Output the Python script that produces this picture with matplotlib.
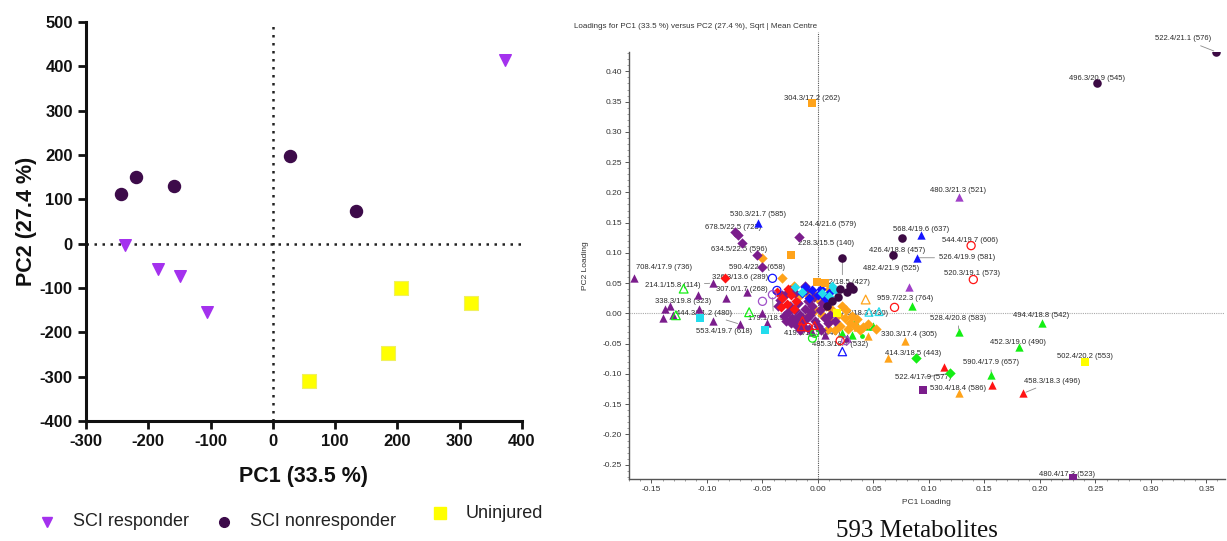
import matplotlib
matplotlib.use("Agg")
import matplotlib.pyplot as plt
from matplotlib.ticker import MultipleLocator

plt.rcParams['font.family'] = ['Liberation Sans', 'DejaVu Sans']
plt.rcParams['axes.unicode_minus'] = False

# ---- scores plot (left) ----
responder_x = [372, -237, -185, -149, -106]
responder_y = [414, -3, -58, -74, -154]
nonresponder_x = [-244, -220, -159, 28, 133]
nonresponder_y = [113, 151, 131, 197, 74]
uninjured_x = [206, 318, 185, 58]
uninjured_y = [-99, -134, -247, -310]
group_names = ["SCI responder", "SCI nonresponder", "Uninjured"]

# ---- loadings plot (right), grouped by marker class ----
dark_circles = [(0.359, 0.432), (0.251, 0.380), (0.076, 0.124), (0.068, 0.096),
                (0.022, 0.091), (0.029, 0.046), (0.026, 0.035), (0.018, 0.027),
                (0.013, 0.020), (0.008, 0.012), (0.032, 0.040), (0.020, 0.040)]
purple_diamonds = [(-0.075, 0.134), (-0.072, 0.129), (-0.068, 0.116), (-0.055, 0.097),
                   (-0.050, 0.076), (-0.017, 0.127),
                   (-0.030, 0.030), (-0.025, 0.013), (-0.021, 0.005), (-0.016, -0.003),
                   (-0.027, 0.002), (-0.023, -0.008), (-0.018, 0.018), (-0.012, 0.008),
                   (-0.007, -0.003), (-0.003, -0.012), (-0.014, -0.015), (-0.019, -0.020),
                   (-0.009, 0.021), (-0.005, 0.013), (0.002, 0.005), (0.006, -0.008),
                   (-0.032, 0.030), (-0.036, 0.013), (-0.029, -0.012), (-0.016, -0.028),
                   (0.000, -0.020), (-0.004, 0.027), (-0.021, 0.033), (0.011, -0.003),
                   (0.004, 0.018), (-0.011, 0.038), (-0.025, 0.038), (-0.012, 0.045),
                   (-0.008, -0.025), (0.009, -0.015), (-0.034, 0.022), (-0.020, -0.010),
                   (-0.010, -0.008), (0.015, -0.012), (-0.031, -0.004), (-0.006, 0.002),
                   (-0.024, -0.016), (-0.013, -0.022), (0.003, -0.028)]
orange_diamonds = [(-0.050, 0.091), (-0.032, 0.059),
                   (-0.016, 0.030), (-0.005, 0.035), (0.002, 0.021), (0.007, 0.013),
                   (0.013, 0.005), (0.018, -0.003), (0.024, -0.008), (0.029, -0.015),
                   (0.033, -0.020), (0.011, -0.012), (0.020, -0.020), (0.004, -0.003),
                   (-0.003, 0.005), (-0.011, -0.008), (0.025, 0.005), (0.038, -0.028),
                   (0.015, -0.028), (0.009, -0.025), (0.022, 0.013), (0.035, -0.010),
                   (0.041, -0.022), (0.045, -0.018), (0.027, -0.025), (-0.008, 0.028),
                   (0.010, 0.040), (-0.022, 0.045), (0.052, -0.026), (0.031, -0.004)]
orange_squares = [(-0.005, 0.347), (-0.024, 0.097), (0.006, 0.050), (-0.001, 0.052)]
red_diamonds = [(-0.084, 0.058), (-0.037, 0.035), (-0.032, 0.025), (-0.028, 0.015),
                (-0.024, 0.030), (-0.020, 0.020), (-0.033, 0.010), (-0.027, 0.040),
                (-0.022, 0.008)]
blue_diamonds = [(-0.012, 0.043), (-0.005, 0.038), (0.000, 0.030), (0.006, 0.025),
                 (-0.008, 0.025), (0.003, 0.040), (0.010, 0.033), (0.012, 0.022),
                 (-0.014, 0.033)]
blue_triangles = [(-0.054, 0.150), (0.093, 0.129), (0.089, 0.092), (0.008, 0.018)]
blue_open_circles = [(-0.041, 0.058), (-0.037, 0.038)]
blue_open_triangles = [(0.022, -0.063)]
purple_open_circles = [(-0.050, 0.020), (-0.041, 0.031), (0.025, -0.045)]
cyan_diamonds = [(0.013, 0.046), (-0.021, 0.043), (-0.014, 0.035), (0.004, 0.033),
                 (0.010, 0.028), (0.015, 0.038)]
cyan_squares = [(-0.048, -0.028), (-0.106, -0.008)]
cyan_open_triangles = [(0.046, 0.002), (0.055, 0.003)]
yellow_squares = [(0.241, -0.080), (0.017, 0.000)]
purple_triangles = [(-0.166, 0.058), (-0.095, 0.050), (-0.108, 0.031), (-0.083, 0.026),
                    (-0.138, 0.007), (-0.133, 0.012), (-0.140, -0.007), (-0.131, -0.002),
                    (-0.107, 0.008), (-0.095, -0.012), (-0.070, -0.018), (-0.064, 0.035),
                    (-0.050, 0.000), (-0.046, -0.015), (-0.005, -0.030), (0.006, -0.035),
                    (0.026, -0.040)]
light_purple_triangles = [(0.127, 0.193), (0.082, 0.043)]
green_triangles = [(0.085, 0.013), (0.127, -0.031), (0.202, -0.015), (0.181, -0.056),
                   (0.156, -0.102), (0.033, -0.012), (0.044, -0.020), (0.050, -0.020),
                   (0.031, -0.036), (0.022, -0.033)]
green_diamonds = [(0.088, -0.074), (0.119, -0.099)]
green_dots = [(0.040, -0.038)]
green_open_triangles = [(-0.121, 0.041), (-0.128, -0.003), (-0.062, 0.002)]
green_open_circles = [(-0.005, -0.041), (-0.003, -0.033)]
red_triangles = [(0.114, -0.089), (0.157, -0.119), (0.185, -0.132)]
red_open_circles = [(0.138, 0.112), (0.140, 0.056), (0.069, 0.010), (0.020, -0.045),
                    (-0.009, -0.023)]
red_open_triangles = [(-0.014, -0.012), (-0.003, -0.020), (-0.015, -0.022)]
orange_triangles = [(0.078, -0.046), (0.063, -0.073), (0.127, -0.132), (0.035, -0.023),
                    (0.045, -0.038)]
orange_open_triangles = [(0.043, 0.023)]
purple_squares = [(0.095, -0.127), (0.230, -0.272)]

# metabolite labels: text, anchor point
loading_labels = [
    ("522.4/21.1 (576)", 0.359, 0.432), ("496.3/20.9 (545)", 0.251, 0.380),
    ("304.3/17.2 (262)", -0.005, 0.347), ("480.3/21.3 (521)", 0.127, 0.193),
    ("530.3/21.7 (585)", -0.054, 0.150), ("524.4/21.6 (579)", -0.017, 0.127),
    ("678.5/22.5 (723)", -0.075, 0.134), ("634.5/22.5 (596)", -0.055, 0.097),
    ("228.3/15.5 (140)", -0.024, 0.097), ("590.4/22.4 (658)", -0.050, 0.076),
    ("708.4/17.9 (736)", -0.166, 0.058), ("214.1/15.8 (114)", -0.095, 0.050),
    ("326.3/13.6 (289)", -0.084, 0.058), ("307.0/1.7 (268)", -0.083, 0.026),
    ("338.3/19.8 (323)", -0.107, 0.008), ("444.3/21.2 (480)", -0.070, -0.018),
    ("553.4/19.7 (618)", -0.048, -0.028), ("179.1/18.5 (60)", -0.041, 0.031),
    ("400.2/18.5 (427)", 0.022, 0.091), ("397.3/18.3 (430)", 0.017, 0.000),
    ("419.3/18.5 (446)", -0.003, -0.033), ("485.3/18.4 (532)", 0.022, -0.063),
    ("330.3/17.4 (305)", 0.078, -0.046), ("959.7/22.3 (764)", 0.085, 0.013),
    ("568.4/19.6 (637)", 0.076, 0.124), ("544.4/19.7 (606)", 0.138, 0.112),
    ("426.4/18.8 (457)", 0.068, 0.096), ("526.4/19.9 (581)", 0.089, 0.092),
    ("482.4/21.9 (525)", 0.068, 0.096), ("520.3/19.1 (573)", 0.140, 0.056),
    ("528.4/20.8 (583)", 0.127, -0.031), ("494.4/18.8 (542)", 0.202, -0.015),
    ("452.3/19.0 (490)", 0.181, -0.056), ("414.3/18.5 (443)", 0.063, -0.073),
    ("502.4/20.2 (553)", 0.241, -0.080), ("590.4/17.9 (657)", 0.156, -0.102),
    ("522.4/17.9 (577)", 0.119, -0.099), ("458.3/18.3 (496)", 0.185, -0.132),
    ("530.4/18.4 (586)", 0.095, -0.127), ("480.4/17.3 (523)", 0.230, -0.272),
]
# label placement in pixels relative to the point, and whether a leader line is drawn
label_offsets = [(-33, 13, 1), (0, 5, 0), (0, 5, 0), (-1, 6, 0), (0, 8, 0), (29, 12, 0),
                 (-2, 5, 0), (-18, 5, 0), (35, 11, 0), (-5, 0, 0), (30, 11, 0), (-40, -2, 1),
                 (15, 1, 0), (16, 8, 0), (-16, 7, 0), (-36, 11, 1), (-41, -1, 0), (1, -24, 1),
                 (0, -24, 1), (23, 0, 0), (-3, 0, 0), (-2, 7, 0), (4, 7, 0), (-7, 7, 0),
                 (19, 9, 0), (-1, 5, 0), (4, 5, 0), (50, 0, 1), (-2, -13, 1), (-1, 6, 0),
                 (-1, 14, 1), (-1, 7, 0), (-1, 5, 0), (25, 4, 0), (0, 5, 0), (0, 13, 1),
                 (-27, -4, 1), (29, 12, 1), (35, 2, 1), (-6, 4, 0)]

DARK = '#3c0a44'
PURPLE = '#7b1d8c'
LPURPLE = '#a040c8'
ORANGE = '#ffa31a'
RED = '#ff1414'
BLUE = '#1414ff'
CYAN = '#22dced'
GREEN = '#14ee14'
YELLOW = '#ffff00'

fig = plt.figure(figsize=(12.27, 5.41), dpi=100)

# ================= left: scores =================
ax1 = fig.add_axes([0.0701, 0.2218, 0.3553, 0.7375])
ax1.axvline(0, color='#222222', lw=1.8, ls=(0, (1, 2.2)), zorder=1)
ax1.axhline(0, color='#222222', lw=1.8, ls=(0, (1, 2.2)), zorder=1)
ax1.scatter(responder_x, responder_y, marker='v', s=70, color='#a431ee', zorder=3)
ax1.scatter(nonresponder_x, nonresponder_y, marker='o', s=75, color='#3d0b4a', zorder=3)
ax1.scatter(uninjured_x, uninjured_y, marker='s', s=90, color=YELLOW,
            edgecolors='#f0f060', lw=0.8, zorder=3)
ax1.set_xlim(-300, 400)
ax1.set_ylim(-400, 500)
ax1.set_xticks(range(-300, 401, 100))
ax1.set_yticks(range(-400, 501, 100))
for side in ('top', 'right'):
    ax1.spines[side].set_visible(False)
for side in ('left', 'bottom'):
    ax1.spines[side].set_linewidth(2.2)
    ax1.spines[side].set_color('#111111')
ax1.tick_params(direction='out', length=6, width=2, colors='#111111', labelsize=12)
for lab in ax1.get_xticklabels() + ax1.get_yticklabels():
    lab.set_fontweight('bold')
ax1.set_xlabel("PC1 (33.5 %)", fontsize=15.5, fontweight='bold', color='#111111', labelpad=12)
ax1.set_ylabel("PC2 (27.4 %)", fontsize=15.5, fontweight='bold', color='#111111', labelpad=2)

# manual legend under the scores plot
leg_markers = [('v', '#a431ee', 47, 522), ('o', '#3d0b4a', 224, 522), ('s', YELLOW, 440, 513)]
for (m, c, px, py), name in zip(leg_markers, group_names):
    fig.add_artist(plt.Line2D([px / 1227], [1 - py / 541], marker=m, color=c, ls='',
                              markersize=7 if m != 's' else 9, transform=fig.transFigure))
    fig.text((px + 26) / 1227, 1 - py / 541, name, fontsize=13, color='#222222',
             va='center', ha='left')

# ================= right: loadings =================
ax2 = fig.add_axes([0.5126, 0.1146, 0.4857, 0.7893])
ax2.set_xlim(-0.1703, 0.3667)
ax2.set_ylim(-0.2736, 0.432)
ax2.plot([0, 0], [-0.2736, 0.465], color='#555555', lw=0.8, ls=(0, (1, 1)),
         clip_on=False, zorder=1)
ax2.axhline(0, color='#aaaaaa', lw=0.8, ls=(0, (1, 1)), zorder=1)


def draw(pts, marker, color, hollow=False, s=30, z=3):
    xs = [p[0] for p in pts]
    ys = [p[1] for p in pts]
    if hollow:
        ax2.scatter(xs, ys, marker=marker, s=s, facecolors='none', edgecolors=color,
                    linewidths=0.9, zorder=z)
    else:
        ax2.scatter(xs, ys, marker=marker, s=s, color=color, linewidths=0, zorder=z)


draw(orange_triangles, '^', ORANGE, s=36)
draw(green_triangles, '^', GREEN, s=36)
draw(red_triangles, '^', RED, s=36)
draw(green_diamonds, 'D', GREEN, s=28)
draw(green_dots, 'o', GREEN, s=12)
draw(purple_triangles, '^', PURPLE, s=36)
draw(light_purple_triangles, '^', LPURPLE, s=36)
draw(orange_diamonds, 'D', ORANGE, s=28)
draw(purple_diamonds, 'D', PURPLE, s=28)
draw(red_diamonds, 'D', RED, s=26)
draw(blue_diamonds, 'D', BLUE, s=26)
draw(cyan_diamonds, 'D', CYAN, s=24)
draw(blue_triangles, '^', BLUE, s=36)
draw(orange_squares, 's', ORANGE, s=36)
draw(cyan_squares, 's', CYAN, s=36)
draw(yellow_squares, 's', YELLOW, s=36)
draw(purple_squares, 's', PURPLE, s=36)
draw(dark_circles, 'o', DARK, s=38)
draw(blue_open_circles, 'o', BLUE, hollow=True, s=34)
draw(purple_open_circles, 'o', '#a050c8', hollow=True, s=34)
draw(red_open_circles, 'o', RED, hollow=True, s=34)
draw(green_open_circles, 'o', GREEN, hollow=True, s=32)
draw(blue_open_triangles, '^', BLUE, hollow=True, s=36)
draw(green_open_triangles, '^', GREEN, hollow=True, s=40)
draw(red_open_triangles, '^', RED, hollow=True, s=32)
draw(cyan_open_triangles, '^', CYAN, hollow=True, s=32)
draw(orange_open_triangles, '^', ORANGE, hollow=True, s=40)

for (txt, x, y), (dx, dy, leader) in zip(loading_labels, label_offsets):
    kw = {}
    if leader:
        kw['arrowprops'] = dict(arrowstyle='-', color='#8a8a8a', lw=0.6,
                                shrinkA=1, shrinkB=2)
    ax2.annotate(txt, (x, y), xytext=(dx, dy), textcoords='offset pixels',
                 fontsize=5.5, color='#2a2a2a', ha='center', va='center',
                 zorder=2, **kw)

ax2.xaxis.set_major_locator(MultipleLocator(0.05))
ax2.yaxis.set_major_locator(MultipleLocator(0.05))
ax2.xaxis.set_minor_locator(MultipleLocator(0.01))
ax2.yaxis.set_minor_locator(MultipleLocator(0.01))
ax2.xaxis.set_major_formatter(lambda v, p: f"{v:.2f}")
ax2.yaxis.set_major_formatter(lambda v, p: f"{v:.2f}")
for side in ('top', 'right'):
    ax2.spines[side].set_visible(False)
for side in ('left', 'bottom'):
    ax2.spines[side].set_color('#555555')
    ax2.spines[side].set_linewidth(1.0)
ax2.tick_params(which='major', direction='out', length=3, width=0.7, colors='#555555',
                labelsize=6, labelcolor='#333333', pad=2)
ax2.tick_params(which='minor', direction='out', length=1.6, width=0.5, colors='#777777')
ax2.set_xlabel("PC1 Loading", fontsize=6, color='#333333', labelpad=4)
ax2.set_ylabel("PC2 Loading", fontsize=6, color='#333333', labelpad=10)

fig.text(574 / 1227, 1 - 27 / 541, "Loadings for PC1 (33.5 %) versus PC2 (27.4 %), Sqrt | Mean Centre",
         fontsize=5.8, color='#333333', ha='left', va='center')
fig.text(917 / 1227, 1 - 531 / 541, "593 Metabolites", fontsize=18, color='#111111',
         ha='center', va='center', family=['Liberation Serif', 'DejaVu Serif'])

fig.savefig("out.png", dpi=100)
